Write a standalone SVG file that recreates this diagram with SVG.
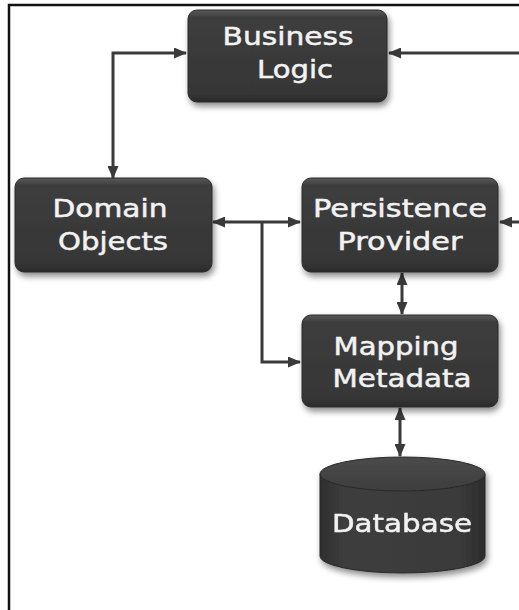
<svg xmlns="http://www.w3.org/2000/svg" width="519" height="610" viewBox="0 0 519 610">
  <defs>
    <linearGradient id="boxFill" x1="0" y1="0" x2="0" y2="1">
      <stop offset="0" stop-color="#5a5a5a"/>
      <stop offset="0.08" stop-color="#3d3d3d"/>
      <stop offset="0.9" stop-color="#363636"/>
      <stop offset="1" stop-color="#2a2a2a"/>
    </linearGradient>
    <linearGradient id="cylSide" x1="0" y1="0" x2="1" y2="0">
      <stop offset="0" stop-color="#2e2e2e"/>
      <stop offset="0.15" stop-color="#3d3d3d"/>
      <stop offset="0.85" stop-color="#3a3a3a"/>
      <stop offset="1" stop-color="#2c2c2c"/>
    </linearGradient>
    <linearGradient id="cylTop" x1="0" y1="0" x2="0" y2="1">
      <stop offset="0" stop-color="#4a4a4a"/>
      <stop offset="1" stop-color="#3e3e3e"/>
    </linearGradient>
    <filter id="shadow" x="-20%" y="-20%" width="140%" height="150%">
      <feGaussianBlur in="SourceAlpha" stdDeviation="3"/>
      <feOffset dx="2" dy="4" result="b"/>
      <feComponentTransfer><feFuncA type="linear" slope="0.45"/></feComponentTransfer>
      <feMerge><feMergeNode/><feMergeNode in="SourceGraphic"/></feMerge>
    </filter>
    <marker id="arrow" viewBox="0 0 13 11" refX="12" refY="5.5" markerWidth="13" markerHeight="11" markerUnits="userSpaceOnUse" orient="auto-start-reverse">
      <path d="M0,0 L13,5.5 L0,11 Z" fill="#3a3a3a"/>
    </marker>
  </defs>
  <style>
    .box { fill: url(#boxFill); stroke: #2a2a2a; stroke-width: 1; filter: url(#shadow); }
    .label { font-family: "DejaVu Sans", "Liberation Sans", sans-serif; font-size: 25px; fill: #f2f2f2; stroke: #f2f2f2; stroke-width: 0.5; text-anchor: middle; }
    .conn { fill: none; stroke: #3a3a3a; stroke-width: 3; }
  </style>

  <rect width="519" height="610" fill="#ffffff"/>
  <!-- outer frame -->
  <path d="M9,612 L9,5 L521,5" fill="none" stroke="#111" stroke-width="2.5"/>

  <g id="connectors">
    <path class="conn" d="M113,178 L113,53 L186,53" marker-start="url(#arrow)" marker-end="url(#arrow)"/>
    <path class="conn" d="M521,53 L389,53" marker-end="url(#arrow)"/>
    <path class="conn" d="M521,222 L500,222" marker-end="url(#arrow)"/>
    <path class="conn" d="M213,222 L300,222" marker-start="url(#arrow)" marker-end="url(#arrow)"/>
    <path class="conn" d="M262,222 L262,362 L300,362" marker-end="url(#arrow)"/>
    <path class="conn" d="M402,273 L402,314" marker-start="url(#arrow)" marker-end="url(#arrow)"/>
    <path class="conn" d="M400,408 L400,456" marker-start="url(#arrow)" marker-end="url(#arrow)"/>
  </g>

  <g id="business-logic">
    <rect class="box" x="188" y="10" width="199" height="92" rx="9"/>
    <text class="label" x="288" y="45" textLength="131" lengthAdjust="spacingAndGlyphs">Business</text>
    <text class="label" x="295" y="78" textLength="76" lengthAdjust="spacingAndGlyphs">Logic</text>
  </g>

  <g id="domain-objects">
    <rect class="box" x="15" y="178" width="197" height="94" rx="9"/>
    <text class="label" x="110" y="217" textLength="115" lengthAdjust="spacingAndGlyphs">Domain</text>
    <text class="label" x="113" y="250" textLength="110" lengthAdjust="spacingAndGlyphs">Objects</text>
  </g>

  <g id="persistence-provider">
    <rect class="box" x="302" y="178" width="196" height="94" rx="9"/>
    <text class="label" x="400" y="217" textLength="174" lengthAdjust="spacingAndGlyphs">Persistence</text>
    <text class="label" x="400" y="250" textLength="125" lengthAdjust="spacingAndGlyphs">Provider</text>
  </g>

  <g id="mapping-metadata">
    <rect class="box" x="302" y="315" width="196" height="92" rx="9"/>
    <text class="label" x="396" y="355" textLength="125" lengthAdjust="spacingAndGlyphs">Mapping</text>
    <text class="label" x="402" y="387" textLength="139" lengthAdjust="spacingAndGlyphs">Metadata</text>
  </g>

  <g id="database" filter="url(#shadow)">
    <path d="M320,474 L320,556 A82.5,17 0 0 0 485,556 L485,474 Z" fill="url(#cylSide)" stroke="#2a2a2a" stroke-width="1"/>
    <ellipse cx="402.5" cy="474" rx="82.5" ry="17" fill="url(#cylTop)" stroke="#2a2a2a" stroke-width="1"/>
    <text class="label" x="402" y="532" textLength="140" lengthAdjust="spacingAndGlyphs">Database</text>
  </g>
</svg>
